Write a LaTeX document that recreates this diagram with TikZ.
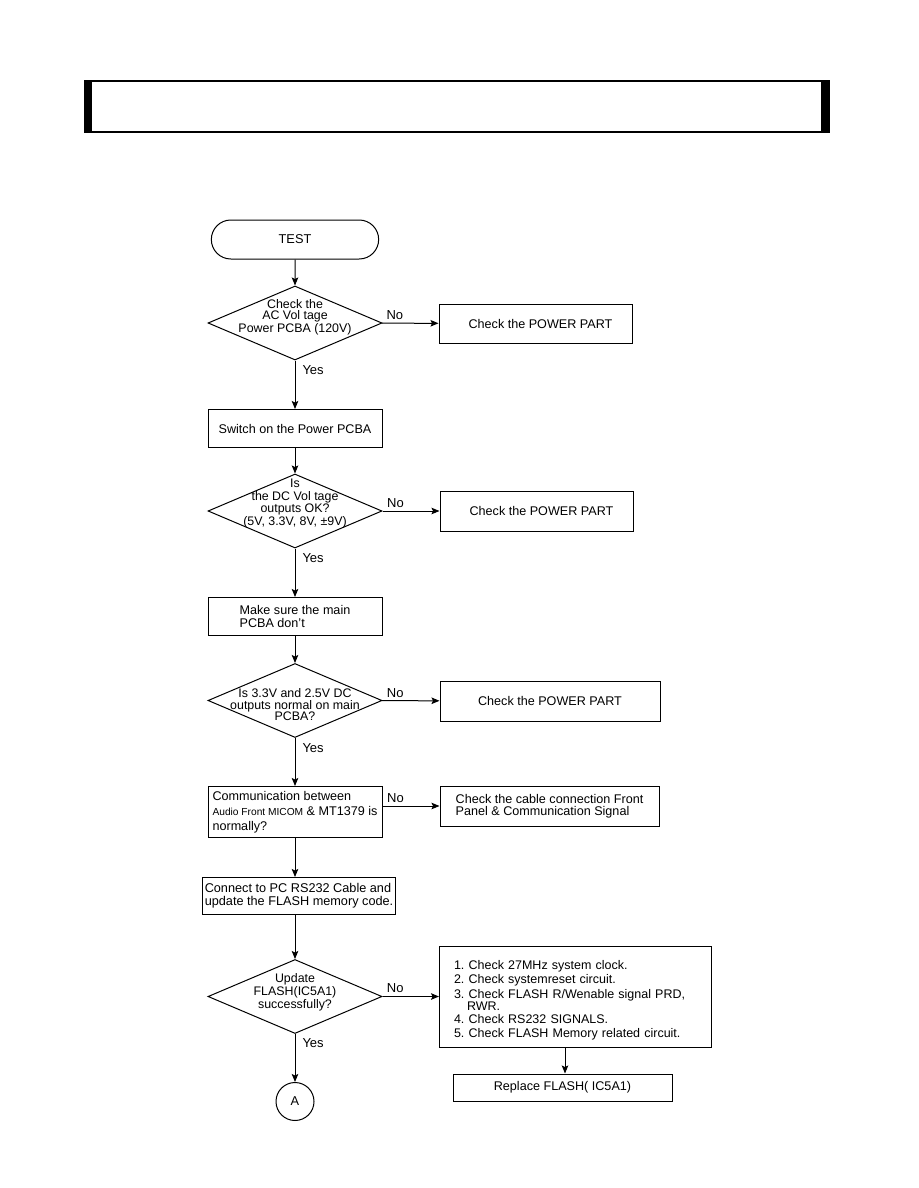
\documentclass[tikz,border=0pt]{standalone}
\usepackage{fontspec}
\setmainfont{Liberation Sans}
\usepackage{tikz}
\usetikzlibrary{positioning,arrows.meta,shapes.geometric,shapes.misc,calc}
\newcommand{\txt}[2]{\fontsize{#1}{#2}\selectfont\frenchspacing}
\tikzset{
  box/.style={rectangle, draw, line width=1pt, inner sep=2pt,
              minimum width=174, minimum height=38, align=left, font=\txt{12.6}{12.5}},
  dec/.style={diamond, draw, line width=1pt, inner sep=0pt,
              minimum width=174, minimum height=74},
  dtxt/.style={align=center, inner sep=0pt, font=\txt{12.4}{#1}},
  dtxt/.default=11.5,
  term/.style={rounded rectangle, draw, line width=1pt, minimum width=174,
               minimum height=39, font=\txt{12.8}{13}},
  conn/.style={circle, draw, line width=1pt, minimum size=38, inner sep=0pt,
               font=\txt{12.8}{13}},
  arr/.style={-{Stealth[length=8pt,width=6.5pt,inset=1.5pt]}, line width=1pt},
  yn/.style={font=\txt{13}{13}, inner sep=1pt},
}

\begin{document}
\begin{tikzpicture}[x=1pt, y=-1pt]
  \useasboundingbox (0,0) rectangle (918,1188);

  % header bar
  \draw[line width=1.2pt] (85,81) rectangle (829,132);
  \fill (85,81) rectangle (92,132);
  \fill (821,81) rectangle (829,132);

  % main column
  \node[term] (test) at (295,239.5) {TEST};
  \node[dec] (d1) at (295,323) {};
  \node[dtxt] (t1) at (295,317) {Check the\\AC Vol tage\\Power PCBA (120V)};
  \node[box, anchor=north] (sw) at (295,409) {Switch on the Power PCBA};
  \node[dec] (d2) at (295,511) {};
  \node[dtxt=12.5] (t2) at (295,503.5) {Is\\the DC Vol tage\\outputs OK?\\(5V, 3.3V, 8V, \textpm9V)};
  \node[box, anchor=north] (mk) at (295,597) {Make sure the main\\PCBA don't};
  \node[dec] (d3) at (295,700.5) {};
  \node[dtxt] (t3) at (295,705) {Is 3.3V and 2.5V DC\\outputs normal on main\\PCBA?};
  \node[box, anchor=north, minimum height=51, font=\txt{12.6}{15}] (com) at (295,786)
       {Communication between\\{\fontsize{10.2}{15}\selectfont Audio Front MICOM} \& MT1379 is\\normally?};
  \node[box, anchor=north, minimum width=192, minimum height=37, font=\txt{12.7}{13}] (upd) at (299,877)
       {Connect to PC RS232 Cable and\\update the FLASH memory code.};
  \node[dec] (d4) at (295,996.5) {};
  \node[dtxt=13] (t4) at (295,992) {Update\\FLASH(IC5A1)\\successfully?};
  \node[conn] (a) at (295,1101.5) {A};

  % right column
  \node[box, align=center, minimum width=193, minimum height=39] (p1) at (535.5,323.5) {\hspace{10pt}Check the POWER PART};
  \node[box, align=center, minimum width=193, minimum height=40] (p2) at (536.5,511) {\hspace{10pt}Check the POWER PART};
  \node[box, align=center, minimum width=220, minimum height=40] (p3) at (550,701) {Check the POWER PART};
  \node[box, minimum width=219, minimum height=40, font=\txt{12.6}{12}] (cab) at (549.5,806)
       {Check the cable connection Front\\Panel \& Communication Signal};
  \node[box, anchor=north west, text width=243, inner xsep=14.5pt, inner ysep=0pt,
        minimum height=101, font=\txt{12.5}{12}] (chk) at (439,946)
       {\rule{0pt}{16pt}1. Check 27MHz system clock.\\[2.5pt]
        2. Check systemreset circuit.\\[2.5pt]
        3. Check FLASH R/Wenable signal PRD,\\
        \hspace*{13pt}RWR.\\[1.5pt]
        4. Check RS232 SIGNALS.\\[2pt]
        5. Check FLASH Memory related circuit.};
  \node[box, align=center, minimum width=219, minimum height=27] (rep) at (562.5,1087.5) {Replace FLASH( IC5A1)};
  \coordinate (ax) at (565,0);

  % connectors
  \draw[arr] (test) -- (d1);
  \draw[arr] (d1) -- node[yn, right, pos=0.2, xshift=6pt] {Yes} (sw);
  \draw[arr] (d1) -- node[yn, above left, pos=0.4, yshift=2pt] {No} (p1);
  \draw[arr] (sw) -- (d2);
  \draw[arr] (d2) -- node[yn, right, pos=0.2, xshift=6pt] {Yes} (mk);
  \draw[arr] (d2) -- node[yn, above left, pos=0.4, yshift=2pt] {No} (p2);
  \draw[arr] (mk) -- (d3);
  \draw[arr] (d3) -- node[yn, right, pos=0.2, xshift=6pt] {Yes} (com);
  \draw[arr] (d3) -- node[yn, above left, pos=0.4, yshift=2pt] {No} (p3);
  \draw[arr] (com.east |- cab.west) -- node[yn, above left, pos=0.4, yshift=2pt] {No} (cab.west);
  \draw[arr] (com) -- (upd.north -| com.south);
  \draw[arr] (upd.south -| d4.north) -- (d4);
  \draw[arr] (d4) -- node[yn, right, pos=0.18, xshift=6pt] {Yes} (a);
  \draw[arr] (d4) -- node[yn, above left, pos=0.4, yshift=2pt] {No} (chk.west |- d4);
  \draw[arr] (chk.south -| ax) -- (rep.north -| ax);
\end{tikzpicture}
\end{document}
